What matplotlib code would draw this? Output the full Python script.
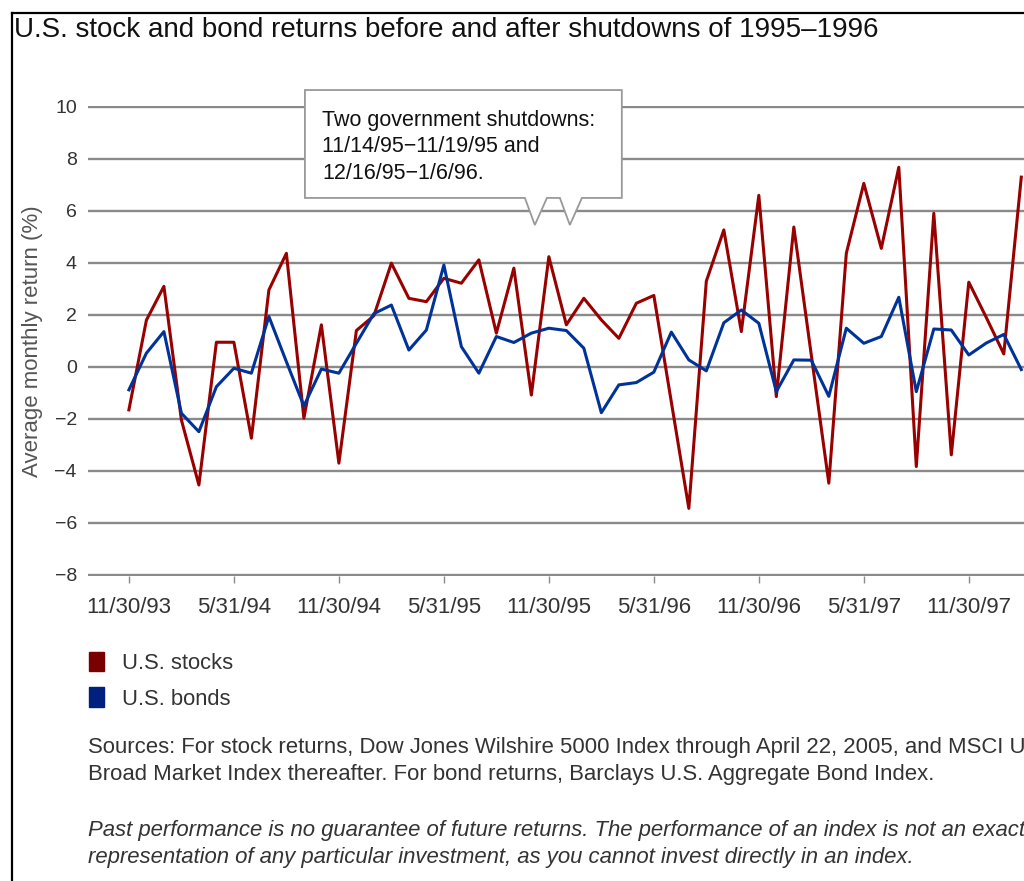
import numpy as np
import matplotlib.pyplot as plt
from matplotlib.patches import Patch, Polygon

plt.rcParams['font.family'] = ['Liberation Sans', 'DejaVu Sans']

# monthly returns, 11/93 - 2/98
stocks = [-1.65, 1.8, 3.1, -2.04, -4.54, 0.95, 0.95, -2.74, 2.96, 4.37,
          -1.97, 1.62, -3.7, 1.4, 1.97, 3.99, 2.64, 2.51, 3.41, 3.22,
          4.12, 1.3, 3.8, -1.08, 4.24, 1.62, 2.64, 1.81, 1.1, 2.45,
          2.75, -1.35, -5.44, 3.3, 5.27, 1.36, 6.6, -1.14, 5.38, 0.45,
          -4.47, 4.37, 7.06, 4.56, 7.68, -3.83, 5.91, -3.38, 3.26, 1.9,
          0.5, 7.3]
bonds = [-0.88, 0.53, 1.36, -1.78, -2.49, -0.76, -0.05, -0.24, 1.94, 0.2,
         -1.5, -0.08, -0.24, 0.91, 2.05, 2.38, 0.65, 1.42, 3.92, 0.78,
         -0.24, 1.17, 0.94, 1.3, 1.49, 1.4, 0.72, -1.76, -0.69, -0.6,
         -0.2, 1.34, 0.27, -0.15, 1.7, 2.19, 1.68, -0.95, 0.27, 0.26,
         -1.13, 1.49, 0.91, 1.17, 2.68, -0.95, 1.46, 1.42, 0.46, 0.92,
         1.25, -0.1]
tick_labels = ['11/30/93', '5/31/94', '11/30/94', '5/31/95', '11/30/95',
               '5/31/96', '11/30/96', '5/31/97', '11/30/97']
y_ticks = [10, 8, 6, 4, 2, 0, -2, -4, -6, -8]

# where the callout pointers land (month index from 11/93)
callout_tips = [23.2, 25.2]

red = '#990000'
blue = '#003399'
grid_col = '#8a8a8a'
text_col = '#333333'

months = np.arange(len(stocks))

fig = plt.figure(figsize=(10.24, 8.81), dpi=100)
ax = fig.add_axes([0.0859, 0.3459, 0.92, 0.5342])

ax.plot(months, stocks, color=red, lw=2.2, zorder=3)
ax.plot(months, bonds, color=blue, lw=2.2, zorder=3)

ax.set_xlim(-2.34, 51.5)
ax.set_ylim(-8.05, 10.05)

ax.set_yticks(y_ticks)
ax.set_yticklabels([str(v).replace('-', '\u2212') for v in y_ticks])
ax.set_xticks(np.arange(0, 6 * len(tick_labels), 6))
ax.set_xticklabels(tick_labels)

for v in y_ticks:
    ax.axhline(v, color=grid_col, lw=1.7, zorder=1)

for s in ax.spines.values():
    s.set_visible(False)
ax.tick_params(axis='y', length=0, pad=8, labelsize=14, labelcolor=text_col)
ax.tick_params(axis='x', length=5, width=1, color=grid_col, pad=10,
               labelsize=16, labelcolor=text_col)
ax.set_ylabel('Average monthly return (%)', fontsize=16, color='#555555',
              labelpad=8)

# callout box with two pointers
bx0, bx1, by0, by1 = 10.06, 28.17, 6.5, 10.65
tip_y = 5.46
pts = [(bx0, by1), (bx1, by1), (bx1, by0)]
for tip in callout_tips[::-1]:
    pts += [(tip + 0.69, by0), (tip, tip_y), (tip - 0.57, by0)]
pts += [(bx0, by0)]
ax.add_patch(Polygon(pts, closed=True, facecolor='white', edgecolor='#999999',
                     lw=1.3, zorder=4, clip_on=False))
ax.text(bx0 + 1.0, by1 - 0.76,
        'Two government shutdowns:\n11/14/95\u221211/19/95 and\n12/16/95\u22121/6/96.',
        fontsize=15.5, color='#111111', va='top', ha='left', linespacing=1.35,
        zorder=5)

fig.text(14 / 1024, 1 - 30 / 881,
         'U.S. stock and bond returns before and after shutdowns of 1995\u20131996',
         fontsize=20, color='#111111', va='center', ha='left')

# outer frame (top and left edges)
fig.add_artist(plt.Line2D([11.5 / 1024, 11.5 / 1024], [0, 1 - 12.5 / 881],
                          color='black', lw=1.6))
fig.add_artist(plt.Line2D([11.5 / 1024, 1], [1 - 12.5 / 881, 1 - 12.5 / 881],
                          color='black', lw=1.6))

handles = [Patch(color='#7a0000', label='U.S. stocks'),
           Patch(color='#002080', label='U.S. bonds')]
fig.legend(handles=handles, loc='upper left',
           bbox_to_anchor=(69 / 1024, 1 - 632 / 881), frameon=False,
           fontsize=15.8, handlelength=0.7, handleheight=1.0,
           handletextpad=0.8, labelspacing=0.6, labelcolor=text_col)

fig.text(88 / 1024, 1 - 761 / 881,
         'Sources: For stock returns, Dow Jones Wilshire 5000 Index through April 22, 2005, and MSCI US\n'
         'Broad Market Index thereafter. For bond returns, Barclays U.S. Aggregate Bond Index.',
         fontsize=15.9, color=text_col, va='center', ha='left', linespacing=1.4)
fig.text(88 / 1024, 1 - 844 / 881,
         'Past performance is no guarantee of future returns. The performance of an index is not an exact\n'
         'representation of any particular investment, as you cannot invest directly in an index.',
         fontsize=15.9, color=text_col, va='center', ha='left', style='italic',
         linespacing=1.4)

fig.savefig('out.png', dpi=100, facecolor='white')
